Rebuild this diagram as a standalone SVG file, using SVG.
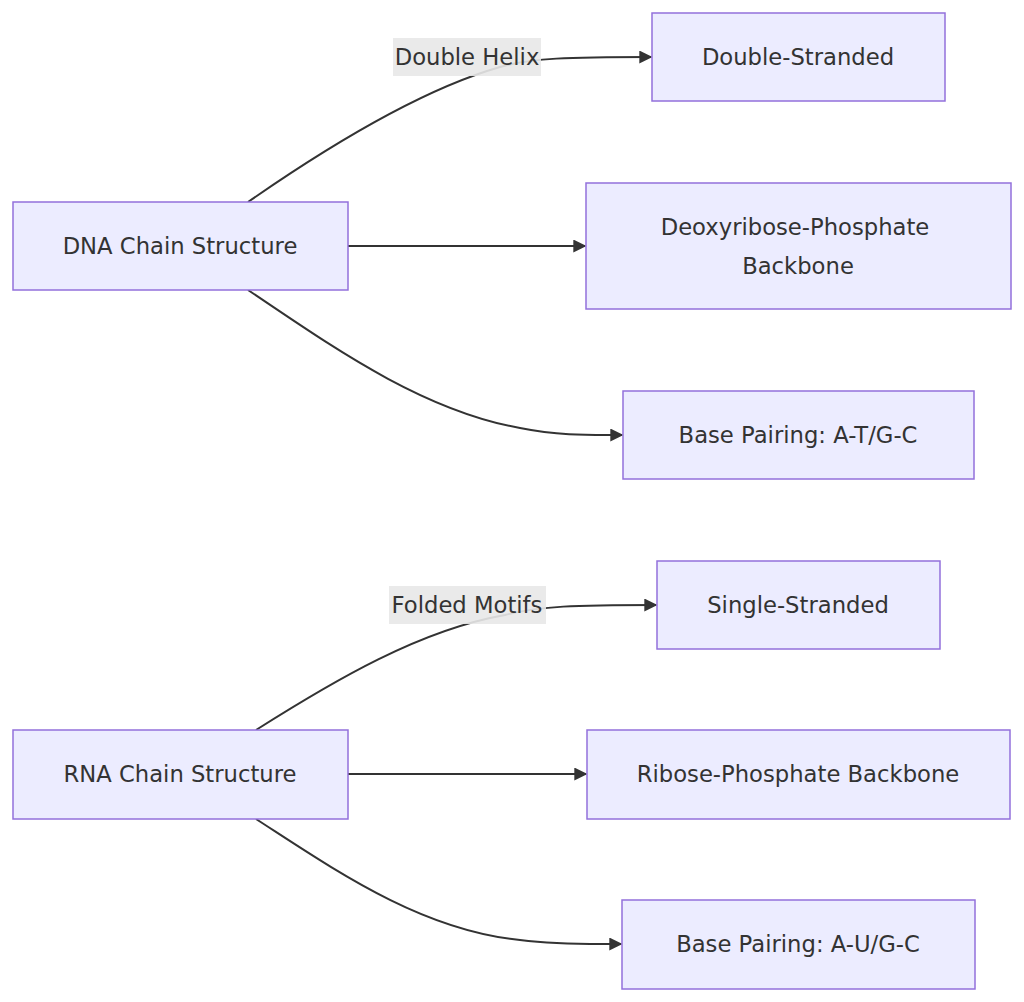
<svg xmlns="http://www.w3.org/2000/svg" width="1024" height="1002" viewBox="0 0 1024 1002">
<style>
.node rect{fill:#ECECFF;stroke:#9370DB;stroke-width:1.5}
text{font-family:"DejaVu Sans","Open Sans",sans-serif;font-size:22.7px;fill:#333;text-anchor:middle;dominant-baseline:central}
.edge{fill:none;stroke:#333;stroke-width:2}
.lbl rect{fill:#e8e8e8;opacity:0.9}
</style>
<defs>
<marker id="arr" viewBox="0 0 10 10" refX="9" refY="5" markerWidth="13" markerHeight="13" markerUnits="userSpaceOnUse" orient="auto">
<path d="M0,0 L10,5 L0,10 z" fill="#333"/>
</marker>
</defs>
<rect width="1024" height="1002" fill="#fff"/>
<g id="connectors">
<path class="edge" d="M248,202 C330,145 420,90 500,67 C530,58 570,57 651,57" marker-end="url(#arr)"/>
<path class="edge" d="M348,246 L585,246" marker-end="url(#arr)"/>
<path class="edge" d="M248,290 C330,345 420,410 520,428 C560,436 590,435 622,435" marker-end="url(#arr)"/>
<path class="edge" d="M256,730 C335,680 420,630 505,615 C540,606 575,605 656,605" marker-end="url(#arr)"/>
<path class="edge" d="M348,774 L586,774" marker-end="url(#arr)"/>
<path class="edge" d="M256,819 C335,870 420,930 520,940 C560,945 590,944 621,944" marker-end="url(#arr)"/>
</g>
<g id="label-double-helix" class="lbl"><rect x="393" y="38" width="148" height="38"/><text x="467" y="57">Double Helix</text></g>
<g id="label-folded-motifs" class="lbl"><rect x="389" y="586" width="157" height="38"/><text x="467" y="605">Folded Motifs</text></g>
<g id="dna" class="node"><rect x="13" y="202" width="335" height="88"/><text x="180" y="246">DNA Chain Structure</text></g>
<g id="ds" class="node"><rect x="652" y="13" width="293" height="88"/><text x="798" y="57">Double-Stranded</text></g>
<g id="dbb" class="node"><rect x="586" y="183" width="425" height="126"/><text x="795" y="227">Deoxyribose-Phosphate</text><text x="798" y="266">Backbone</text></g>
<g id="bpat" class="node"><rect x="623" y="391" width="351" height="88"/><text x="798" y="435">Base Pairing: A-T/G-C</text></g>
<g id="rna" class="node"><rect x="13" y="730" width="335" height="89"/><text x="180" y="774">RNA Chain Structure</text></g>
<g id="ss" class="node"><rect x="657" y="561" width="283" height="88"/><text x="798" y="605">Single-Stranded</text></g>
<g id="rbb" class="node"><rect x="587" y="730" width="423" height="89"/><text x="798" y="774">Ribose-Phosphate Backbone</text></g>
<g id="bpau" class="node"><rect x="622" y="900" width="353" height="89"/><text x="798" y="944">Base Pairing: A-U/G-C</text></g>
</svg>
